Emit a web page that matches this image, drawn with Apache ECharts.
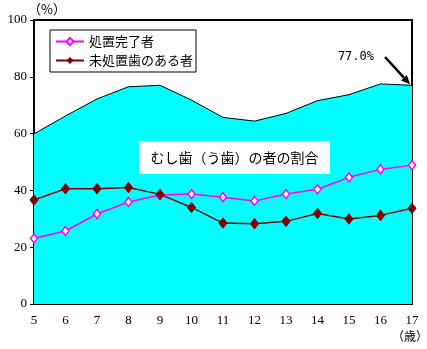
<!DOCTYPE html>
<html>
<head>
<meta charset="utf-8">
<script src="https://cdn.jsdelivr.net/npm/echarts@6/dist/echarts.min.js"></script>
<style>
  html, body { margin: 0; padding: 0; background: #fff; }
  #chart { width: 427px; height: 349px; }
</style>
</head>
<body>
<div id="chart"></div>
<script>
// Ages (years) along the horizontal axis
const ages = ['5', '6', '7', '8', '9', '10', '11', '12', '13', '14', '15', '16', '17'];
// Share of pupils with caries (%), drawn as the cyan area
const cariesTotal = [59.9, 66.2, 72.2, 76.5, 77.0, 71.8, 65.7, 64.4, 67.1, 71.6, 73.7, 77.5, 77.0];
// Treated (処置完了者), %
const treated = [23.1, 25.7, 31.7, 35.9, 38.4, 38.7, 37.6, 36.3, 38.7, 40.4, 44.6, 47.4, 48.9];
// With untreated caries (未処置歯のある者), %
const untreated = [36.6, 40.6, 40.6, 41.0, 38.6, 34.0, 28.5, 28.3, 29.1, 31.9, 29.9, 31.2, 33.7];
// Y-axis ticks
const yTicks = [0, 20, 40, 60, 80, 100];
const lastLabel = '77.0%';

const jp = '"Noto Sans CJK JP", sans-serif';
const num = '"Liberation Serif", "DejaVu Serif", serif';

const chart = echarts.init(document.getElementById('chart'), null, { renderer: 'canvas' });

const option = {
  animation: false,
  backgroundColor: '#fff',
  grid: {
    left: 34, right: 15, top: 20, bottom: 45,
    show: true, borderColor: '#000', borderWidth: 2, backgroundColor: '#fff'
  },
  legend: {
    data: ['処置完了者', '未処置歯のある者'],
    orient: 'vertical',
    left: 50, top: 30,
    backgroundColor: '#fff',
    borderColor: '#000', borderWidth: 1,
    padding: [5, 3, 5, 5],
    itemGap: 6,
    itemWidth: 28, itemHeight: 9,
    textStyle: { fontFamily: jp, fontSize: 13, color: '#000' }
  },
  xAxis: {
    type: 'category',
    data: ages,
    boundaryGap: false,
    axisLine: { lineStyle: { color: '#000', width: 2 } },
    axisTick: { show: false },
    axisLabel: { fontFamily: num, fontSize: 13, color: '#000', margin: 10 }
  },
  yAxis: {
    type: 'value',
    min: yTicks[0], max: yTicks[yTicks.length - 1], interval: 20,
    splitLine: { show: false },
    axisLine: { show: true, lineStyle: { color: '#000', width: 2 } },
    axisTick: { show: true, inside: false, length: 4, lineStyle: { color: '#000' } },
    axisLabel: { fontFamily: num, fontSize: 13, color: '#000', margin: 7 }
  },
  series: [
    {
      name: 'むし歯（う歯）の者の割合',
      type: 'line',
      data: cariesTotal,
      symbol: 'none',
      lineStyle: { color: '#000', width: 1 },
      areaStyle: { color: '#00FFFF', opacity: 1 },
      z: 1
    },
    {
      name: '処置完了者',
      type: 'line',
      data: treated,
      symbol: 'diamond',
      symbolSize: [7, 9],
      itemStyle: { color: '#fff', borderColor: '#FF00FF', borderWidth: 1.5 },
      lineStyle: { color: '#FF00FF', width: 1.5 },
      z: 3
    },
    {
      name: '未処置歯のある者',
      type: 'line',
      data: untreated,
      symbol: 'diamond',
      symbolSize: [8, 10],
      itemStyle: { color: '#800000', borderColor: '#800000' },
      lineStyle: { color: '#800000', width: 1.5 },
      z: 3
    }
  ]
};

chart.setOption(option);

// Annotations: axis units, central caption, and the arrow to the age-17 value
const last = cariesTotal.length - 1;
const tip = chart.convertToPixel({ seriesIndex: 0 }, [last, cariesTotal[last]]);
const start = [385, 57];
const end = [tip[0] - 2, tip[1] - 1];
const ang = Math.atan2(end[1] - start[1], end[0] - start[0]);
const headLen = 9, headW = 4;
const bx = end[0] - headLen * Math.cos(ang), by = end[1] - headLen * Math.sin(ang);
const head = [
  end,
  [bx + headW * Math.sin(ang), by - headW * Math.cos(ang)],
  [bx - headW * Math.sin(ang), by + headW * Math.cos(ang)]
];

chart.setOption({
  graphic: {
    elements: [
      { type: 'text', left: 28, top: 3, z: 10,
        style: { text: '（%）', font: '13px ' + jp, fill: '#000' } },
      { type: 'text', left: 392, top: 330, z: 10,
        style: { text: '（歳）', font: '12px ' + jp, fill: '#000' } },
      { type: 'rect', z: 10, shape: { x: 139, y: 141, width: 191, height: 33 },
        style: { fill: '#fff' } },
      { type: 'text', z: 11, x: 234.5, y: 158,
        style: { text: 'むし歯（う歯）の者の割合', font: '14px ' + jp, fill: '#000',
                 align: 'center', verticalAlign: 'middle' } },
      { type: 'text', z: 10, x: 374, y: 57,
        style: { text: lastLabel, font: '12px "DejaVu Sans Mono", monospace', fill: '#000',
                 align: 'right', verticalAlign: 'middle' } },
      { type: 'line', z: 10, shape: { x1: start[0], y1: start[1], x2: bx, y2: by },
        style: { stroke: '#000', lineWidth: 2.5 } },
      { type: 'polygon', z: 10, shape: { points: head }, style: { fill: '#000' } }
    ]
  }
});
</script>
</body>
</html>
